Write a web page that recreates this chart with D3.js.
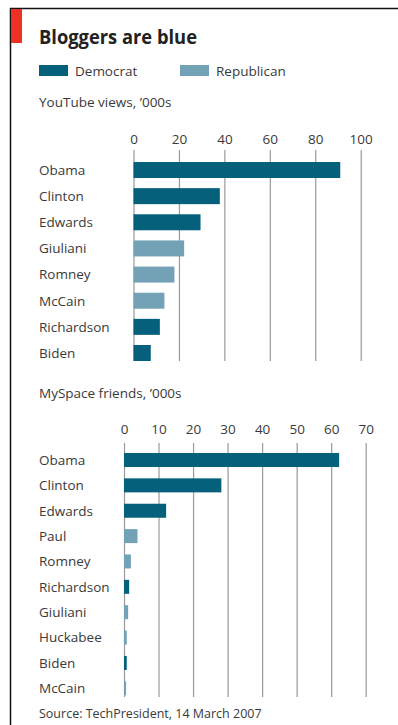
<!DOCTYPE html>
<html>
<head>
<meta charset="utf-8">
<script src="https://cdn.jsdelivr.net/npm/d3@7"></script>
<style>
  html, body { margin: 0; padding: 0; background: #fff; }
  svg { display: block; }
  text { font-family: "Open Sans", sans-serif; fill: #3a3a3a; }
</style>
</head>
<body>
<script>
// ---- data ----
const youtubeNames  = ["Obama","Clinton","Edwards","Giuliani","Romney","McCain","Richardson","Biden"];
const youtubeValues = [91, 38, 29.5, 22.3, 18, 13.6, 11.6, 7.6];
const youtubeParty  = ["Democrat","Democrat","Democrat","Republican","Republican","Republican","Democrat","Democrat"];
const youtubeTicks  = [0, 20, 40, 60, 80, 100];

const myspaceNames  = ["Obama","Clinton","Edwards","Paul","Romney","Richardson","Giuliani","Huckabee","Biden","McCain"];
const myspaceValues = [62.3, 28.2, 12.2, 3.9, 2.0, 1.5, 1.2, 0.8, 0.8, 0.6];
const myspaceParty  = ["Democrat","Democrat","Democrat","Republican","Republican","Democrat","Republican","Republican","Democrat","Republican"];
const myspaceTicks  = [0, 10, 20, 30, 40, 50, 60, 70];

const parties = ["Democrat", "Republican"];

// ---- layout ----
const W = 398, H = 725;
const color = d3.scaleOrdinal().domain(parties).range(["#04607b", "#73a2b7"]);

const svg = d3.select("body").append("svg").attr("width", W).attr("height", H);

// frame
svg.append("line").attr("x1", 10.5).attr("x2", 10.5).attr("y1", 8).attr("y2", H)
  .attr("stroke", "#111").attr("stroke-width", 1.5);
svg.append("line").attr("x1", 10).attr("x2", W).attr("y1", 8.5).attr("y2", 8.5)
  .attr("stroke", "#111").attr("stroke-width", 1.5);
svg.append("rect").attr("x", 11).attr("y", 9).attr("width", 11).attr("height", 34).attr("fill", "#ee3124");

// title
svg.append("text").attr("x", 39).attr("y", 44).text("Bloggers are blue")
  .style("font-weight", "700").style("font-size", "19px").style("fill", "#222")
  .attr("textLength", 158).attr("lengthAdjust", "spacingAndGlyphs");

// legend
const legendX = [39, 180];
parties.forEach((p, i) => {
  svg.append("rect").attr("x", legendX[i]).attr("y", 65).attr("width", 29).attr("height", 11).attr("fill", color(p));
  svg.append("text").attr("x", legendX[i] + 36).attr("y", 76).text(p).style("font-size", "13.5px");
});

function panel(cfg) {
  const g = svg.append("g");
  g.append("text").attr("x", 39).attr("y", cfg.titleY).text(cfg.title).style("font-size", "13.5px");

  const x = d3.scaleLinear().domain(cfg.domain).range(cfg.xRange);
  const y = d3.scalePoint().domain(cfg.names).range(cfg.yRange);

  const axis = d3.axisTop(x).tickValues(cfg.ticks).tickFormat(d3.format("d"))
    .tickSize(-(cfg.gridBottom - cfg.gridTop)).tickPadding(cfg.tickPad);
  const ag = g.append("g").attr("transform", `translate(0,${cfg.gridTop})`).call(axis);
  ag.select(".domain").remove();
  ag.selectAll(".tick line").attr("stroke", "#9a9a9a").attr("stroke-width", 1.2);
  ag.selectAll(".tick text").style("font-size", "13.5px").style("font-family", "Open Sans, sans-serif").attr("fill", "#3a3a3a");

  g.selectAll("rect.bar").data(cfg.names).join("rect").attr("class", "bar")
    .attr("x", x(0))
    .attr("y", d => y(d) - cfg.barH / 2)
    .attr("width", (d, i) => x(cfg.values[i]) - x(0))
    .attr("height", cfg.barH)
    .attr("fill", (d, i) => color(cfg.party[i]));

  g.selectAll("text.lab").data(cfg.names).join("text").attr("class", "lab")
    .attr("x", 39).attr("y", d => y(d)).attr("dy", "0.36em")
    .text(d => d).style("font-size", "13.5px");
}

panel({
  title: "YouTube views, \u2019000s", titleY: 107,
  names: youtubeNames, values: youtubeValues, party: youtubeParty, ticks: youtubeTicks,
  domain: [0, 100], xRange: [133.5, 360.7], yRange: [170, 353],
  gridTop: 150, gridBottom: 361, tickPad: 6, barH: 16
});

panel({
  title: "MySpace friends, \u2019000s", titleY: 398,
  names: myspaceNames, values: myspaceValues, party: myspaceParty, ticks: myspaceTicks,
  domain: [0, 70], xRange: [124, 365.7], yRange: [460, 688.3],
  gridTop: 443, gridBottom: 697, tickPad: 9, barH: 14
});

svg.append("text").attr("x", 39).attr("y", 718).text("Source: TechPresident, 14 March 2007").style("font-size", "12.5px");
</script>
</body>
</html>
